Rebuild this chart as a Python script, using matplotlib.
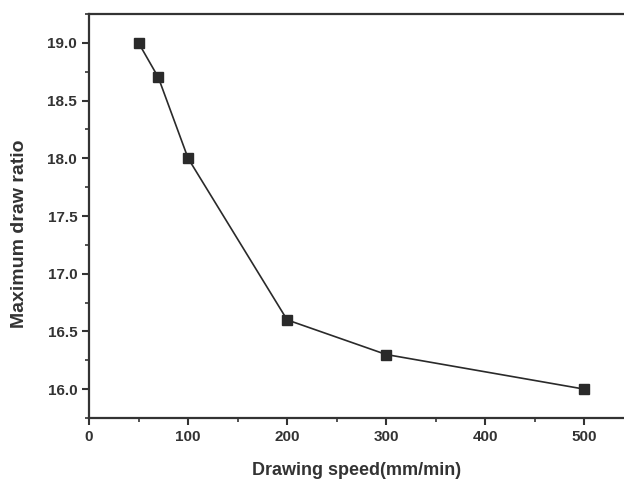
import matplotlib.pyplot as plt
from matplotlib.ticker import MultipleLocator

speed = [50, 70, 100, 200, 300, 500]
draw_ratio = [19.0, 18.7, 18.0, 16.6, 16.3, 16.0]

plt.rcParams['font.family'] = ['Liberation Sans', 'DejaVu Sans']
plt.rcParams['font.weight'] = 'bold'

fig = plt.figure(figsize=(6.24, 4.8), dpi=100)
ax = fig.add_axes([89/624, 62/480, 535/624, 404/480])

ax.plot(speed, draw_ratio, color='#2a2a2a', lw=1.2, marker='s', ms=7,
        mfc='#2a2a2a', mec='#2a2a2a')

ax.set_xlim(0, 540)
ax.set_ylim(15.75, 19.25)
ax.xaxis.set_major_locator(MultipleLocator(100))
ax.xaxis.set_minor_locator(MultipleLocator(50))
ax.yaxis.set_major_locator(MultipleLocator(0.5))
ax.yaxis.set_minor_locator(MultipleLocator(0.25))
ax.yaxis.set_major_formatter('{x:.1f}')

for s in ['left', 'bottom', 'top']:
    ax.spines[s].set_linewidth(1.6)
    ax.spines[s].set_color('#333333')
ax.spines['right'].set_visible(False)

ax.tick_params(which='major', direction='out', length=5, width=1.5,
               labelsize=11, colors='#333333', top=False, right=False)
ax.tick_params(which='minor', direction='out', length=3, width=1.2,
               colors='#333333', top=False, right=False)

ax.set_xlabel('Drawing speed(mm/min)', fontsize=13, fontweight='bold',
              color='#333333')
ax.xaxis.set_label_coords(0.5, -0.108)
ax.set_ylabel('Maximum draw ratio', fontsize=14, fontweight='bold',
              color='#333333')
ax.yaxis.set_label_coords(-0.114, 0.455)

fig.savefig('out.png', dpi=100)
